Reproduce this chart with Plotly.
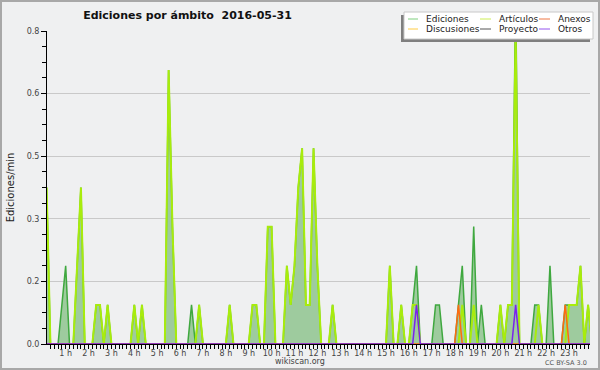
import plotly.graph_objects as go

# ---- data: 10-minute bins over the day (edits per minute) ----
minutos = list(range(0, 1441, 10))          # 0:00 .. 24:00, 145 bins
horas = [m / 60 for m in minutos]

ediciones = [
    0.2, 0.4, 0, 0, 0, 0.1,        # 0 h
    0.2, 0, 0, 0.2, 0.4, 0,        # 1 h
    0, 0, 0.1, 0.1, 0, 0.1,        # 2 h
    0, 0, 0, 0, 0, 0,              # 3 h
    0.1, 0, 0.1, 0, 0, 0,          # 4 h
    0, 0, 0, 0.7, 0.3, 0,          # 5 h
    0, 0, 0, 0.1, 0, 0.1,          # 6 h
    0, 0, 0, 0, 0, 0,              # 7 h
    0, 0.1, 0, 0, 0, 0,            # 8 h
    0, 0.1, 0.1, 0, 0, 0.3,        # 9 h
    0.3, 0, 0, 0, 0.2, 0.1,        # 10 h
    0.2, 0.4, 0.5, 0.1, 0.1, 0.5,  # 11 h
    0.2, 0, 0, 0, 0.1, 0,          # 12 h
    0, 0, 0, 0, 0, 0,              # 13 h
    0, 0, 0, 0, 0, 0,              # 14 h
    0, 0.2, 0, 0, 0.1, 0,          # 15 h
    0, 0.1, 0.2, 0, 0, 0,          # 16 h
    0, 0.1, 0.1, 0, 0, 0,          # 17 h
    0, 0.1, 0.2, 0, 0, 0.3,        # 18 h
    0, 0.1, 0, 0, 0, 0,            # 19 h
    0.1, 0, 0.1, 0.1, 0.9, 0,      # 20 h
    0, 0, 0, 0.1, 0.1, 0,          # 21 h
    0, 0.2, 0, 0, 0, 0.1,          # 22 h
    0.1, 0.1, 0.1, 0.2, 0, 0.1,    # 23 h
    0,
]

articulos = [
    0.2, 0.4, 0, 0, 0, 0,          # 0 h
    0, 0, 0, 0.2, 0.4, 0,          # 1 h
    0, 0, 0.1, 0.1, 0, 0.1,        # 2 h
    0, 0, 0, 0, 0, 0,              # 3 h
    0.1, 0, 0.1, 0, 0, 0,          # 4 h
    0, 0, 0, 0.7, 0.3, 0,          # 5 h
    0, 0, 0, 0, 0, 0.1,            # 6 h
    0, 0, 0, 0, 0, 0,              # 7 h
    0, 0.1, 0, 0, 0, 0,            # 8 h
    0, 0.1, 0.1, 0, 0, 0.3,        # 9 h
    0.3, 0, 0, 0, 0.2, 0.1,        # 10 h
    0.2, 0.4, 0.5, 0.1, 0.1, 0.5,  # 11 h
    0.2, 0, 0, 0, 0.1, 0,          # 12 h
    0, 0, 0, 0, 0, 0,              # 13 h
    0, 0, 0, 0, 0, 0,              # 14 h
    0, 0.2, 0, 0, 0.1, 0,          # 15 h
    0, 0.1, 0.1, 0, 0, 0,          # 16 h
    0, 0, 0, 0, 0, 0,              # 17 h
    0, 0, 0.1, 0, 0, 0.1,          # 18 h
    0, 0, 0, 0, 0, 0,              # 19 h
    0.1, 0, 0.1, 0.1, 0.8, 0,      # 20 h
    0, 0, 0, 0, 0.1, 0,            # 21 h
    0, 0, 0, 0, 0, 0,              # 22 h
    0.1, 0.1, 0.1, 0.2, 0, 0.1,    # 23 h
    0,
]

# sparse namespaces: (bin minute, value)
anexos_min = [1090, 1370]
anexos_val = [0.1, 0.1]
otros_min = [980, 1240]
otros_val = [0.1, 0.1]

def expand(mins, vals):
    d = dict(zip(mins, vals))
    return [d.get(m, 0) for m in minutos]

anexos = expand(anexos_min, anexos_val)
otros = expand(otros_min, otros_val)

hour_ticks = list(range(1, 24))
hour_labels = [f"{h} h" for h in hour_ticks]
y_ticks = [0, 0.16, 0.32, 0.48, 0.64, 0.80]
y_labels = ["0.0", "0.2", "0.3", "0.5", "0.6", "0.8"]

legend_rows = [["Ediciones", "Artículos", "Anexos"],
               ["Discusiones", "Proyecto", "Otros"]]
legend_colors = {"Ediciones": "#7fcf7f", "Artículos": "#cdee55", "Anexos": "#ee7744",
                 "Discusiones": "#ffcc44", "Proyecto": "#555555", "Otros": "#9455ee"}

# ---- figure ----
W, H = 600, 370
L, R, T, B = 47, 10, 31, 26
PW, PH = W - L - R, H - T - B

def px(x):
    return (x - L) / PW

def py(y):
    return (H - B - y) / PH

fig = go.Figure()
fig.add_trace(go.Scatter(x=horas, y=ediciones, mode="lines", name="Ediciones",
                         line=dict(color="#3fa83f", width=1.5),
                         fill="tozeroy", fillcolor="#9ecb9e", showlegend=False))
fig.add_trace(go.Scatter(x=horas, y=articulos, mode="lines", name="Artículos",
                         line=dict(color="#a8ec0c", width=2), showlegend=False))
fig.add_trace(go.Scatter(x=horas, y=anexos, mode="lines", name="Anexos",
                         line=dict(color="#ff6a10", width=1.5), showlegend=False))
fig.add_trace(go.Scatter(x=horas, y=otros, mode="lines", name="Otros",
                         line=dict(color="#7a22ee", width=1.5), showlegend=False))

FONT = "DejaVu Sans"
shapes = []
annotations = []

# outer frame
shapes.append(dict(type="rect", xref="paper", yref="paper",
                   x0=px(1), x1=px(599), y0=py(1), y1=py(369),
                   line=dict(color="#a8a8a8", width=2), layer="above"))
# legend box with shadow
shapes.append(dict(type="rect", xref="paper", yref="paper",
                   x0=px(401), x1=px(590), y0=py(15), y1=py(42),
                   line=dict(width=0), fillcolor="#7f7f7f", layer="above"))
shapes.append(dict(type="rect", xref="paper", yref="paper",
                   x0=px(404), x1=px(593), y0=py(12), y1=py(39),
                   line=dict(color="#c8c8c8", width=1), fillcolor="white", layer="above"))

col_line = [(408, 418), (480, 491), (539, 550)]
col_text = [424, 496.5, 555.5]
row_y = [19, 29]
for r, row in enumerate(legend_rows):
    for c, name in enumerate(row):
        x0, x1 = col_line[c]
        shapes.append(dict(type="line", xref="paper", yref="paper",
                           x0=px(x0), x1=px(x1), y0=py(row_y[r]), y1=py(row_y[r]),
                           line=dict(color=legend_colors[name], width=1), layer="above"))
        annotations.append(dict(text=name, xref="paper", yref="paper",
                                x=px(col_text[c]), y=py(row_y[r]),
                                xanchor="left", yanchor="middle", showarrow=False,
                                font=dict(family=FONT, size=9, color="#222")))

annotations.append(dict(text="wikiscan.org", xref="paper", yref="paper",
                        x=px(300), y=py(361.5), xanchor="center", yanchor="middle",
                        showarrow=False, font=dict(family=FONT, size=8, color="#444")))
annotations.append(dict(text="CC BY-SA 3.0", xref="paper", yref="paper",
                        x=px(589), y=py(362.5), xanchor="right", yanchor="middle",
                        showarrow=False, font=dict(family=FONT, size=6.5, color="#555")))

fig.update_layout(
    width=W, height=H,
    margin=dict(l=L, r=R, t=T, b=B, pad=0),
    paper_bgcolor="#eff0f1", plot_bgcolor="#eff0f1",
    showlegend=False,
    title=dict(text="Ediciones por ámbito  2016-05-31",
               x=187.5 / W, xref="container", xanchor="center",
               y=1 - 15 / H, yref="container", yanchor="middle",
               font=dict(family=FONT, size=11, color="#111", weight="bold")),
    xaxis=dict(range=[0.1836, 23.916], showgrid=False, zeroline=False,
               showline=True, linecolor="black", linewidth=1,
               tickmode="array", tickvals=hour_ticks, ticktext=hour_labels,
               ticks="outside", ticklen=4, tickcolor="black", tickwidth=1,
               ticklabelstandoff=-3,
               tickfont=dict(family=FONT, size=8, color="#444"),
               minor=dict(tickmode="linear", tick0=0, dtick=1/6, ticks="outside",
                          ticklen=4, tickcolor="black", tickwidth=1, showgrid=False)),
    yaxis=dict(range=[0, 0.8], showgrid=True, gridcolor="#c9c9c9", gridwidth=1,
               zeroline=False, showline=True, linecolor="black", linewidth=1,
               tickmode="array", tickvals=y_ticks, ticktext=y_labels,
               ticks="outside", ticklen=5, tickcolor="black", tickwidth=1,
               tickfont=dict(family=FONT, size=8, color="#444"),
               minor=dict(tickmode="linear", tick0=0, dtick=0.04, ticks="outside",
                          ticklen=4, tickcolor="black", tickwidth=1, showgrid=False),
               title=dict(text="Ediciones/min", standoff=10,
                          font=dict(family=FONT, size=10, color="#222"))),
    shapes=shapes,
    annotations=annotations,
)

fig.write_html("out.html", config={"displayModeBar": False},
               post_script="document.body.style.margin='0';document.body.style.padding='0';")
